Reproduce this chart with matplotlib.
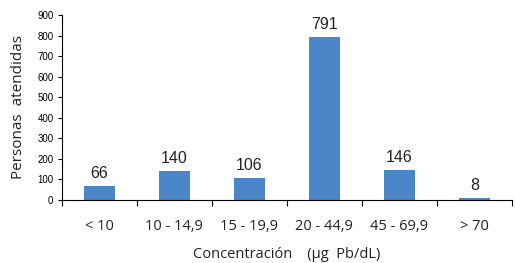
import matplotlib
matplotlib.use("Agg")
import matplotlib.pyplot as plt
import numpy as np

# data
categories = ["< 10", "10 - 14,9", "15 - 19,9", "20 - 44,9", "45 - 69,9", "> 70"]
personas = [66, 140, 106, 791, 146, 8]
y_ticks = [0, 100, 200, 300, 400, 500, 600, 700, 800, 900]

bar_color = "#4a86c8"

fig = plt.figure(figsize=(5.15, 2.63), dpi=100)
ax = fig.add_axes([0.120, 0.240, 0.874, 0.703])

x = np.arange(len(categories))
bars = ax.bar(x, personas, width=0.42, color=bar_color, zorder=2)

for xi, v in zip(x, personas):
    ax.text(xi, v + 25, str(v), ha="center", va="bottom",
            fontsize=11.5, family="Liberation Sans", color="#222222")

ax.set_xlim(-0.5, len(categories) - 0.5)
ax.set_ylim(0, 900)
ax.set_yticks(y_ticks)
ax.set_yticklabels([str(t) for t in y_ticks], family="Liberation Sans", fontsize=7)

# categories centred, ticks at boundaries
ax.set_xticks(x)
ax.set_xticklabels(categories, family="Open Sans", fontsize=10.5, color="#222222")
ax.tick_params(axis="x", length=0, pad=14)
ax.set_xticks(np.arange(len(categories) + 1) - 0.5, minor=True)
ax.tick_params(axis="x", which="minor", length=4, direction="out", width=0.8)
ax.tick_params(axis="y", length=3, width=0.8, pad=3)

for side in ["top", "right"]:
    ax.spines[side].set_visible(False)
for side in ["left", "bottom"]:
    ax.spines[side].set_linewidth(0.8)

ax.set_xlabel("Concentración    (µg  Pb/dL)", family="Open Sans", fontsize=10.5,
              labelpad=9, color="#222222")
ax.set_ylabel("Personas  atendidas", family="Open Sans", fontsize=11,
              labelpad=8, color="#222222")

fig.savefig("out.png", dpi=100)
